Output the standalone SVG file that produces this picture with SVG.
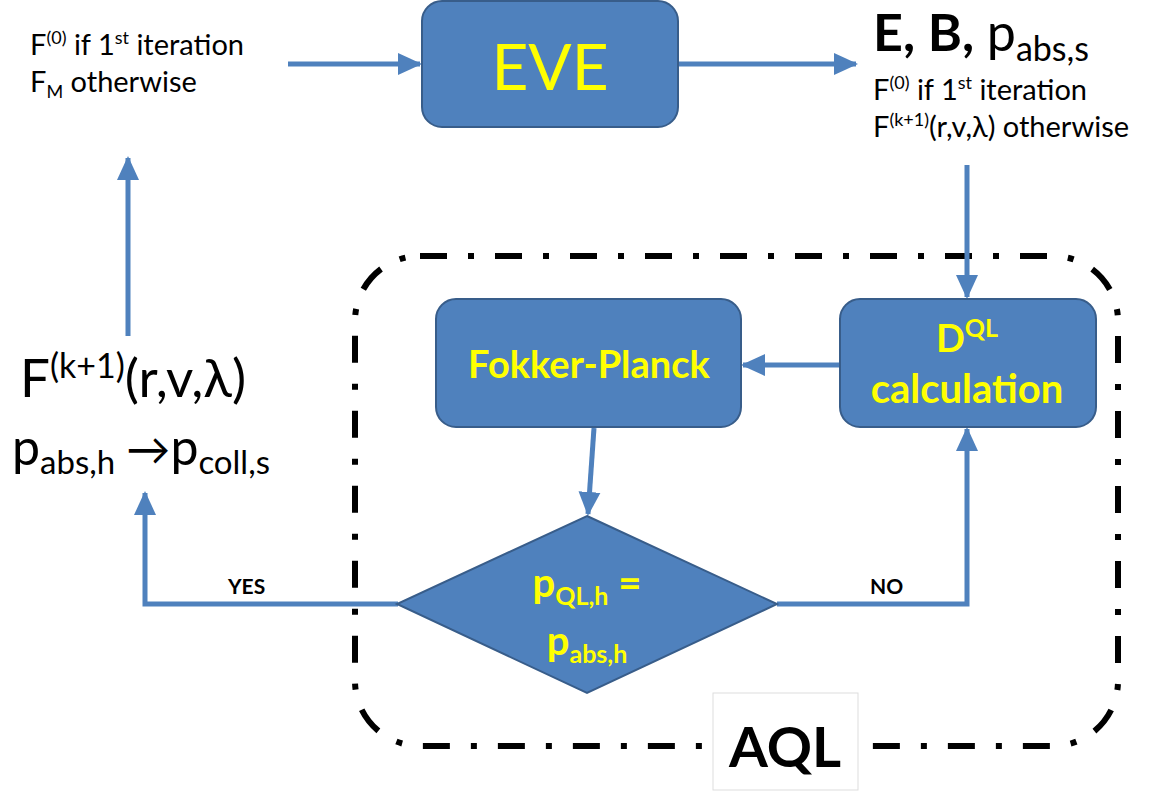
<svg xmlns="http://www.w3.org/2000/svg" width="1157" height="791" viewBox="0 0 1157 791">
<style>
.box{fill:#4F81BD;stroke:#385D8A;stroke-width:2}
.lbl{fill:#FFFF00;font-family:Lato,"Open Sans",sans-serif}
.txt{fill:#000;font-family:Lato,"Open Sans",sans-serif}
.con{fill:none;stroke:#4F81BD;stroke-width:5}
</style>
<defs>
<marker id="ah" markerUnits="userSpaceOnUse" markerWidth="24" markerHeight="24" viewBox="0 0 24 24" refX="22" refY="12" orient="auto">
<path d="M0,1 L24,12 L0,23 Z" fill="#4F81BD"/>
</marker>
</defs>
<rect width="1157" height="791" fill="#fff"/>
<g id="aql-frame">
<rect x="355" y="256" width="763" height="490" rx="65" fill="none" stroke="#000" stroke-width="6" stroke-dasharray="27 21 6 21"/>
</g>
<g id="connectors">
<line class="con" x1="288" y1="64" x2="420" y2="64" marker-end="url(#ah)"/>
<line class="con" x1="678" y1="64" x2="856" y2="64" marker-end="url(#ah)"/>
<line class="con" x1="967" y1="165" x2="967" y2="297" marker-end="url(#ah)"/>
<line class="con" x1="840" y1="365" x2="743" y2="365" marker-end="url(#ah)"/>
<line class="con" x1="594" y1="428" x2="588" y2="514" marker-end="url(#ah)"/>
<polyline class="con" points="777,604 967,604 967,429" marker-end="url(#ah)"/>
<polyline class="con" points="398,604 145,604 145,493" marker-end="url(#ah)"/>
<line class="con" x1="128" y1="336" x2="128" y2="158" marker-end="url(#ah)"/>
<text class="txt" x="228" y="594" font-size="21" font-weight="bold">YES</text>
<text class="txt" x="870" y="594" font-size="21" font-weight="bold">NO</text>
</g>
<g id="eve">
<rect class="box" x="422" y="1" width="256" height="126" rx="20"/>
<text class="lbl" x="550" y="90" font-size="64" text-anchor="middle">EVE</text>
</g>
<g id="fokker-planck">
<rect class="box" x="436" y="299" width="305" height="128" rx="20"/>
<text class="lbl" x="589" y="378" font-size="38" font-weight="bold" text-anchor="middle">Fokker-Planck</text>
</g>
<g id="dql">
<rect class="box" x="840" y="299" width="256" height="128" rx="20"/>
<text class="lbl" x="967" y="352" font-size="38" font-weight="bold" text-anchor="middle">D<tspan font-size="25" dy="-15">QL</tspan></text>
<text class="lbl" x="967" y="403" font-size="40" font-weight="bold" text-anchor="middle">calculation</text>
</g>
<g id="decision">
<polygon class="box" points="587,516 777,604 587,693 397,604"/>
<text class="lbl" x="587" y="597" font-size="40" font-weight="bold" text-anchor="middle">p<tspan font-size="25" dy="8">QL,h</tspan><tspan dy="-8"> =</tspan></text>
<text class="lbl" x="587" y="655" font-size="40" font-weight="bold" text-anchor="middle">p<tspan font-size="25" dy="8">abs,h</tspan></text>
</g>
<g id="input-text">
<text class="txt" x="30" y="55" font-size="29">F<tspan font-size="18" dy="-11">(0)</tspan><tspan dy="11"> if 1</tspan><tspan font-size="18" dy="-11">st</tspan><tspan dy="11"> iteration</tspan></text>
<text class="txt" x="30" y="92" font-size="29">F<tspan font-size="18" dy="6">M</tspan><tspan dy="-6"> otherwise</tspan></text>
</g>
<g id="output-text">
<text class="txt" x="873" y="51" font-size="52"><tspan font-weight="bold">E, B, </tspan>p<tspan font-size="34" dy="10">abs,s</tspan></text>
<text class="txt" x="873" y="100" font-size="29">F<tspan font-size="18" dy="-11">(0)</tspan><tspan dy="11"> if 1</tspan><tspan font-size="18" dy="-11">st</tspan><tspan dy="11"> iteration</tspan></text>
<text class="txt" x="873" y="137" font-size="29">F<tspan font-size="18" dy="-11">(k+1)</tspan><tspan dy="11">(r,v,λ) otherwise</tspan></text>
</g>
<g id="result-text">
<text class="txt" x="20" y="397" font-size="53">F<tspan font-size="34" dy="-19">(k+1)</tspan><tspan dy="19">(r,v,λ)</tspan></text>
<text class="txt" x="12" y="465" font-size="50">p<tspan font-size="33" dy="9">abs,h</tspan><tspan dy="-9" font-size="44"> →</tspan><tspan>p</tspan><tspan font-size="33" dy="9">coll,s</tspan></text>
</g>
<g id="aql-label">
<rect x="713" y="693" width="145" height="97" fill="#fff" stroke="#ddd" stroke-width="1"/>
<text class="txt" x="785" y="767" font-size="56" font-weight="bold" text-anchor="middle">AQL</text>
</g>
</svg>
